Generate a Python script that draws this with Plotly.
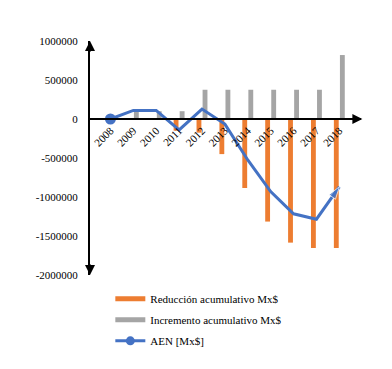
import plotly.graph_objects as go

years = ["2008", "2009", "2010", "2011", "2012", "2013", "2014", "2015", "2016", "2017", "2018"]
reduccion = [0, 0, 0, -150000, -175000, -450000, -885000, -1315000, -1585000, -1655000, -1655000]
incremento = [0, 100000, 100000, 100000, 375000, 375000, 375000, 375000, 375000, 375000, 820000]
aen = [0, 110000, 110000, -140000, 128000, -65000, -525000, -930000, -1215000, -1285000, -870000]
y_ticks = [1000000, 500000, 0, -500000, -1000000, -1500000, -2000000]
y_ticktext = ["1000000", "500000", "0", "-500000", "-1000000", "-1500000", "-2000000"]

FONT = "Liberation Serif"
ORANGE = "#ED7D31"
GRAY = "#A5A5A5"
BLUE = "#4472C4"

n = len(years)
symbols = ["circle"] * (n - 1) + ["arrow"]
sizes = [0] * (n - 1) + [13]

fig = go.Figure()
fig.add_trace(go.Bar(x=years, y=reduccion, name="Reducción acumulativo Mx$",
                     marker_color=ORANGE, marker_line_width=0, showlegend=False))
fig.add_trace(go.Bar(x=years, y=incremento, name="Incremento acumulativo Mx$",
                     marker_color=GRAY, marker_line_width=0, showlegend=False))
fig.add_trace(go.Scatter(x=years, y=aen, name="AEN [Mx$]", mode="lines+markers",
                         line=dict(color=BLUE, width=3), showlegend=False,
                         marker=dict(symbol=symbols, size=sizes, color=BLUE,
                                     angleref="previous")))
fig.add_trace(go.Scatter(x=years[:1], y=aen[:1], mode="markers", showlegend=False,
                         marker=dict(symbol="circle", size=11, color=BLUE)))

# legend entries
fig.add_trace(go.Scatter(x=[None], y=[None], mode="lines", name="Reducción acumulativo Mx$",
                         legendgroup="a", line=dict(color=ORANGE, width=5)))
fig.add_trace(go.Scatter(x=[None], y=[None], mode="lines", name="Incremento acumulativo Mx$",
                         legendgroup="b", line=dict(color=GRAY, width=5)))
fig.add_trace(go.Scatter(x=[None], y=[None], mode="lines+markers", name="AEN [Mx$]",
                         legendgroup="c", line=dict(color=BLUE, width=3),
                         marker=dict(symbol="circle", size=9, color=BLUE)))

fig.update_layout(
    width=392, height=369,
    margin=dict(l=90, r=31, t=41, b=94, autoexpand=False),
    plot_bgcolor="white", paper_bgcolor="white",
    barmode="group", bargap=0.47, bargroupgap=0.2,
    font=dict(family=FONT, size=11, color="black"),
    showlegend=True,
    legend=dict(x=0.075, y=-0.04, xanchor="left", yanchor="top",
                traceorder="grouped", tracegroupgap=2,
                font=dict(family=FONT, size=11, color="black"),
                bgcolor="rgba(0,0,0,0)"),
)
fig.update_xaxes(anchor="free", position=2/3, showline=True, linecolor="black", linewidth=2,
                 ticks="", tickangle=-45, showgrid=False, zeroline=False, automargin=False,
                 tickfont=dict(family=FONT, size=11, color="black"))
fig.update_yaxes(range=[-2000000, 1000000], showline=True, linecolor="black", linewidth=2,
                 ticks="", tickvals=y_ticks, ticktext=y_ticktext, showgrid=False,
                 zeroline=False, ticklabelstandoff=8, automargin=False,
                 tickfont=dict(family=FONT, size=11, color="black"))

# axis arrows
fig.add_annotation(xref="paper", yref="y", x=1.005, y=0, ax=-12, ay=0, text="",
                   showarrow=True, arrowhead=2, arrowsize=1, arrowwidth=2, arrowcolor="black")
fig.add_annotation(xref="paper", yref="y", x=0, y=1000000, ax=0, ay=12, text="",
                   showarrow=True, arrowhead=2, arrowsize=1, arrowwidth=2, arrowcolor="black")
fig.add_annotation(xref="paper", yref="y", x=0, y=-2000000, ax=0, ay=-12, text="",
                   showarrow=True, arrowhead=2, arrowsize=1, arrowwidth=2, arrowcolor="black")

fig.write_html("out.html", config={"displayModeBar": False},
               post_script="document.body.style.margin='0';")
